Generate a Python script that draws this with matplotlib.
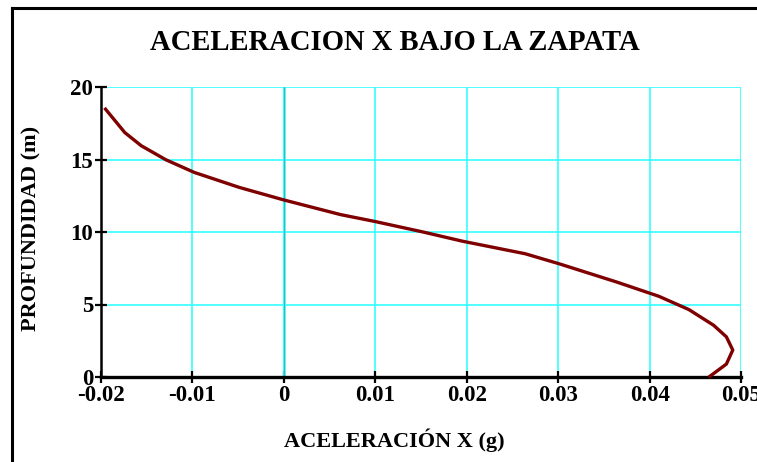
import matplotlib
matplotlib.use("Agg")
import matplotlib.pyplot as plt
from matplotlib.lines import Line2D

# acceleration (g) vs depth (m)
accel_g = [-0.0195, -0.0174, -0.0156, -0.0129, -0.0098, -0.0049, 0.0000,
           0.0062, 0.0100, 0.0153, 0.0195, 0.0264, 0.0301, 0.0364, 0.0410,
           0.0443, 0.0470, 0.0484, 0.0491, 0.0484, 0.0466]
depth_m = [18.47, 16.86, 15.95, 14.98, 14.11, 13.08, 12.21,
           11.20, 10.72, 9.99, 9.37, 8.50, 7.81, 6.55, 5.57,
           4.65, 3.57, 2.77, 1.86, 0.89, 0.05]

x_ticks = [-0.02, -0.01, 0, 0.01, 0.02, 0.03, 0.04, 0.05]
x_tick_labels = ["-0.02", "-0.01", "0", "0.01", "0.02", "0.03", "0.04", "0.05"]
y_ticks = [0, 5, 10, 15, 20]
y_tick_labels = ["0", "5", "10", "15", "20"]

TITLE = "ACELERACION X BAJO LA ZAPATA"
XLABEL = "ACELERACIÓN X (g)"
YLABEL = "PROFUNDIDAD (m)"

plt.rcParams["font.family"] = ["Liberation Serif", "DejaVu Serif"]
plt.rcParams["font.weight"] = "bold"

W, H = 757, 462
fig = plt.figure(figsize=(W / 100, H / 100), dpi=100)

# outer frame (only top and left edges are visible in the crop)
fig.add_artist(Line2D([12 / W, 12 / W], [0, 1 - 8 / H], transform=fig.transFigure,
                      color="black", linewidth=2.2))
fig.add_artist(Line2D([12 / W, 1.0], [1 - 8 / H, 1 - 8 / H], transform=fig.transFigure,
                      color="black", linewidth=2.2))

ax = fig.add_axes([101 / W, 1 - 377 / H, 640 / W, 290 / H])
ax.set_xlim(-0.02, 0.05)
ax.set_ylim(0, 20)

ax.grid(True, color="#33ffff", linewidth=1.2)
ax.axvline(0, color="#33ffff", linewidth=2.0, zorder=1.5)
ax.axvline(0, color="#4aa5a5", linewidth=0.6, zorder=1.6)
ax.set_axisbelow(True)

ax.plot(accel_g, depth_m, color="#7f0000", linewidth=2.4, zorder=3, clip_on=False)

for side in ("top", "right"):
    ax.spines[side].set_visible(False)
ax.spines["left"].set_linewidth(1.8)
ax.spines["bottom"].set_linewidth(2.4)

ax.set_xticks(x_ticks)
ax.set_xticklabels(x_tick_labels)
ax.set_yticks(y_ticks)
ax.set_yticklabels(y_tick_labels)
ax.tick_params(axis="both", direction="inout", length=9, width=1.6, color="black",
               labelsize=16.5)
ax.tick_params(axis="x", pad=1)
ax.tick_params(axis="y", pad=1)
for lab in ax.get_xticklabels() + ax.get_yticklabels():
    lab.set_fontweight("bold")

# axis titles placed where the reference has them (x title is left of centre)
fig.text(394 / W, 1 - 440 / H, XLABEL, fontsize=16, fontweight="bold",
         ha="center", va="center")
fig.text(31 / W, 1 - 228 / H, YLABEL, fontsize=16, fontweight="bold",
         ha="center", va="center", rotation=90)

fig.text(395 / W, 1 - 43 / H, TITLE, fontsize=20.6, fontweight="bold",
         ha="center", va="center")

fig.savefig("out.png", dpi=100)
